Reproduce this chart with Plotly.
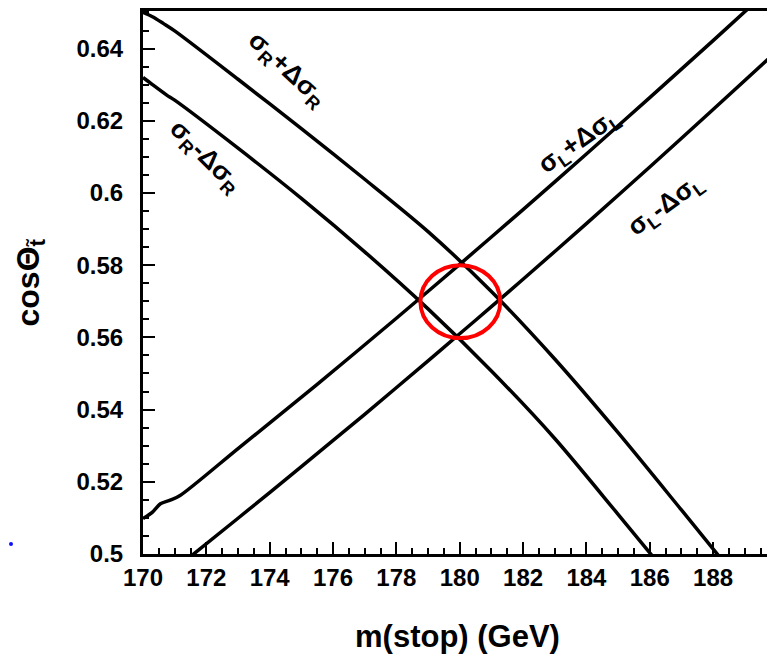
import plotly.graph_objects as go

# ---- data ----
x_sigR_plus = [170.0, 170.3, 170.65, 171.0, 173.0, 175.0, 177.0, 179.0, 181.0, 183.0, 185.0, 187.0, 188.5]
y_sigR_plus = [0.6500, 0.6488, 0.6469, 0.6449, 0.6315, 0.6178, 0.6038, 0.5893, 0.5727, 0.5540, 0.5336, 0.5122, 0.4960]

x_sigR_minus = [170.0, 170.3, 170.75, 171.0, 173.0, 175.0, 177.0, 179.0, 181.0, 183.0, 185.0, 186.5]
y_sigR_minus = [0.6320, 0.6300, 0.6271, 0.6257, 0.6124, 0.5985, 0.5837, 0.5679, 0.5507, 0.5320, 0.5110, 0.4950]

x_sigL_plus = [170.0, 170.3, 170.55, 170.86, 171.17, 173.0, 175.5, 178.0, 180.1, 182.0, 184.0, 186.0, 188.0, 189.0, 190.0]
y_sigL_plus = [0.5098, 0.5116, 0.5139, 0.5149, 0.5162, 0.5292, 0.5470, 0.5653, 0.5810, 0.5954, 0.6108, 0.6264, 0.6422, 0.6502, 0.6580]

x_sigL_minus = [171.4, 173.0, 175.0, 177.0, 179.0, 180.0, 181.0, 182.0, 184.0, 186.0, 188.0, 190.0]
y_sigL_minus = [0.4986, 0.5099, 0.5242, 0.5387, 0.5535, 0.5610, 0.5685, 0.5761, 0.5915, 0.6072, 0.6231, 0.6392]

circle_center = (180.02, 0.5699)
circle_radius = (1.26, 0.0101)

x_tick_vals = [170, 172, 174, 176, 178, 180, 182, 184, 186, 188]
y_tick_vals = [0.5, 0.52, 0.54, 0.56, 0.58, 0.6, 0.62, 0.64]
y_tick_text = ["0.5", "0.52", "0.54", "0.56", "0.58", "0.6", "0.62", "0.64"]

labels = [
    ("σ<sub>R</sub>+Δσ<sub>R</sub>", 174.55, 0.6341, 43),
    ("σ<sub>R</sub>-Δσ<sub>R</sub>", 171.97, 0.6102, 45),
    ("σ<sub>L</sub>+Δσ<sub>L</sub>", 183.76, 0.6143, -35),
    ("σ<sub>L</sub>-Δσ<sub>L</sub>", 186.49, 0.5965, -36),
]

FONT = "Liberation Sans, Arial, sans-serif"

fig = go.Figure()
for xs, ys in [(x_sigR_plus, y_sigR_plus), (x_sigR_minus, y_sigR_minus),
               (x_sigL_plus, y_sigL_plus), (x_sigL_minus, y_sigL_minus)]:
    fig.add_trace(go.Scatter(x=xs, y=ys, mode="lines",
                             line=dict(color="black", width=3.5, shape="spline", smoothing=0.8),
                             showlegend=False, hoverinfo="skip"))

cx, cy = circle_center
rx, ry = circle_radius
fig.add_shape(type="circle", xref="x", yref="y",
              x0=cx - rx, x1=cx + rx, y0=cy - ry, y1=cy + ry,
              line=dict(color="#ff0000", width=4))

# small blue speck at left
fig.add_shape(type="circle", xref="paper", yref="paper", xsizemode="pixel", ysizemode="pixel",
              xanchor=0, yanchor=0, x0=-134, x1=-130, y0=8, y1=12,
              fillcolor="#1010ff", line=dict(width=0))

for txt, lx, ly, ang in labels:
    fig.add_annotation(x=lx, y=ly, xref="x", yref="y", text="<b>" + txt + "</b>", showarrow=False,
                       textangle=ang, font=dict(family=FONT, size=26, color="black"))

fig.add_annotation(xref="paper", yref="paper", x=0.5, y=0, yanchor="middle", yshift=-82,
                   text="<b>m(stop) (GeV)</b>", showarrow=False,
                   font=dict(family=FONT, size=31, color="black"))
fig.add_annotation(xref="paper", yref="paper", x=0, y=0.5, xanchor="center", xshift=-113,
                   text="<b>cosΘ<sub>t\u0303</sub></b>", showarrow=False, textangle=-90,
                   font=dict(family=FONT, size=32, color="black"))

axis_common = dict(showline=True, linecolor="black", linewidth=3, mirror=True,
                   showgrid=False, zeroline=False, ticks="inside", tickcolor="black",
                   tickwidth=2, ticklen=12,
                   tickfont=dict(family=FONT, size=24, color="black", weight="bold"))

fig.update_xaxes(range=[170, 189.86], tickvals=x_tick_vals,
                 minor=dict(ticks="inside", ticklen=6, tickwidth=1.5, tickcolor="black", dtick=0.5),
                 ticklabelstandoff=0, **axis_common)
fig.update_yaxes(range=[0.5, 0.6504], tickvals=y_tick_vals, ticktext=y_tick_text,
                 minor=dict(ticks="inside", ticklen=6, tickwidth=1.5, tickcolor="black", dtick=0.005),
                 ticklabelstandoff=12, **axis_common)

# page body adds an 8px offset; figure sized so the plot lands where the reference has it
fig.update_layout(width=767, height=655, margin=dict(l=135, r=3, t=0, b=109),
                  plot_bgcolor="white", paper_bgcolor="white")

fig.write_html("out.html")
